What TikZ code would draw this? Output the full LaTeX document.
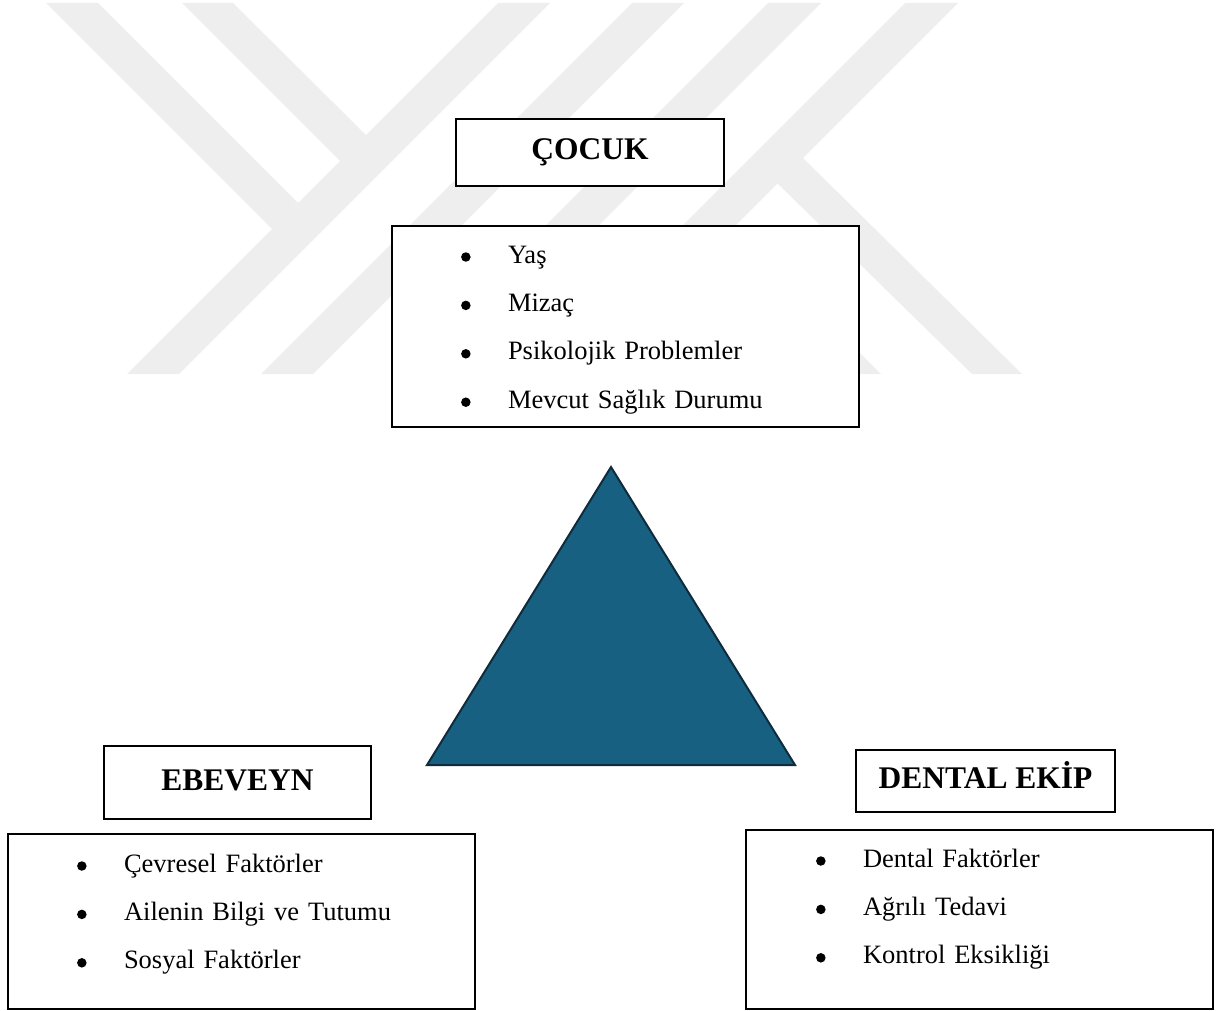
\documentclass[tikz,border=0pt]{standalone}
\usepackage{fontspec}
\setmainfont{Liberation Serif}
\usepackage{xcolor}
\usepackage{tikz}
\usetikzlibrary{positioning}

\definecolor{wmgray}{HTML}{EEEEEE}
\definecolor{trifill}{HTML}{176082}
\definecolor{triedge}{HTML}{0F2C3C}

\begin{document}
\begin{tikzpicture}[x=1pt, y=-1pt, node distance=22pt,
    titlebox/.style={rectangle, draw, line width=1.8pt, text height=22pt, text depth=7pt, font=\fontsize{31.5}{36}\selectfont\bfseries},
    listbox/.style={rectangle, draw, line width=1.8pt, fill=white, minimum width=467pt},
    listdot/.style={circle, fill, inner sep=0pt, minimum size=9.5pt},
    item/.style={text width=300pt, inner sep=0pt, text height=19pt, text depth=7pt, align=left, font=\fontsize{26.5}{32}\selectfont, label={[listdot, label distance=37pt]west:{}}}]
    \useasboundingbox (0,0) rectangle (1217,1011);

    \fill[wmgray] (46,3) -- (98,3) -- (298,203) -- (272,229) -- cycle;
    \fill[wmgray] (182,3) -- (233,3) -- (366,135) -- (340,161) -- cycle;
    \fill[wmgray] (498,3) -- (550,3) -- (179,374) -- (127,374) -- cycle;
    \fill[wmgray] (632,3) -- (684,3) -- (313,374) -- (261,374) -- cycle;
    \fill[wmgray] (768,3) -- (821,3) -- (450,374) -- (397,374) -- cycle;
    \fill[wmgray] (905,3) -- (958,3) -- (587,374) -- (534,374) -- cycle;
    \fill[wmgray] (801,156) -- (1022,374) -- (972,374) -- (776,182) -- cycle;
    \fill[wmgray] (732,226) -- (881,374) -- (829,374) -- (706,252) -- cycle;

    \node[titlebox, fill=white, minimum width=268pt, minimum height=67pt] (cocuk) at (590,152.5) {ÇOCUK};
    \node[listbox, minimum height=201pt] (cocuklist) at (625.5,326.5) {};
    \node[item] (yas) at (658,257) {Yaş};
    \node[item, below=of yas] (mizac) {Mizaç};
    \node[item, below=of mizac] (psikolojik) {Psikolojik Problemler};
    \node[item, below=of psikolojik] (saglik) {Mevcut Sağlık Durumu};

    \coordinate (apex) at (611,467);
    \coordinate (baseL) at (427,765);
    \coordinate (baseR) at (795,765);
    \draw[draw=triedge, fill=trifill, line width=2pt] (apex) -- (baseL) -- (baseR) -- cycle;

    \node[titlebox, minimum width=267pt, minimum height=73pt] (ebeveyn) at (237.5,782.5) {EBEVEYN};
    \node[listbox, minimum height=175pt] (ebeveynlist) at (241.5,921.5) {};
    \node[item] (cevresel) at (274,866) {Çevresel Faktörler};
    \node[item, below=of cevresel] (ailenin) {Ailenin Bilgi ve Tutumu};
    \node[item, below=of ailenin] (sosyal) {Sosyal Faktörler};

    \node[titlebox, minimum width=259pt, minimum height=62pt] (dental) at (985.5,781) {DENTAL EKİP};
    \node[listbox, minimum height=179pt] (dentallist) at (979.5,919.5) {};
    \node[item] (faktor) at (1013,861) {Dental Faktörler};
    \node[item, below=of faktor] (agrili) {Ağrılı Tedavi};
    \node[item, below=of agrili] (kontrol) {Kontrol Eksikliği};
\end{tikzpicture}
\end{document}
